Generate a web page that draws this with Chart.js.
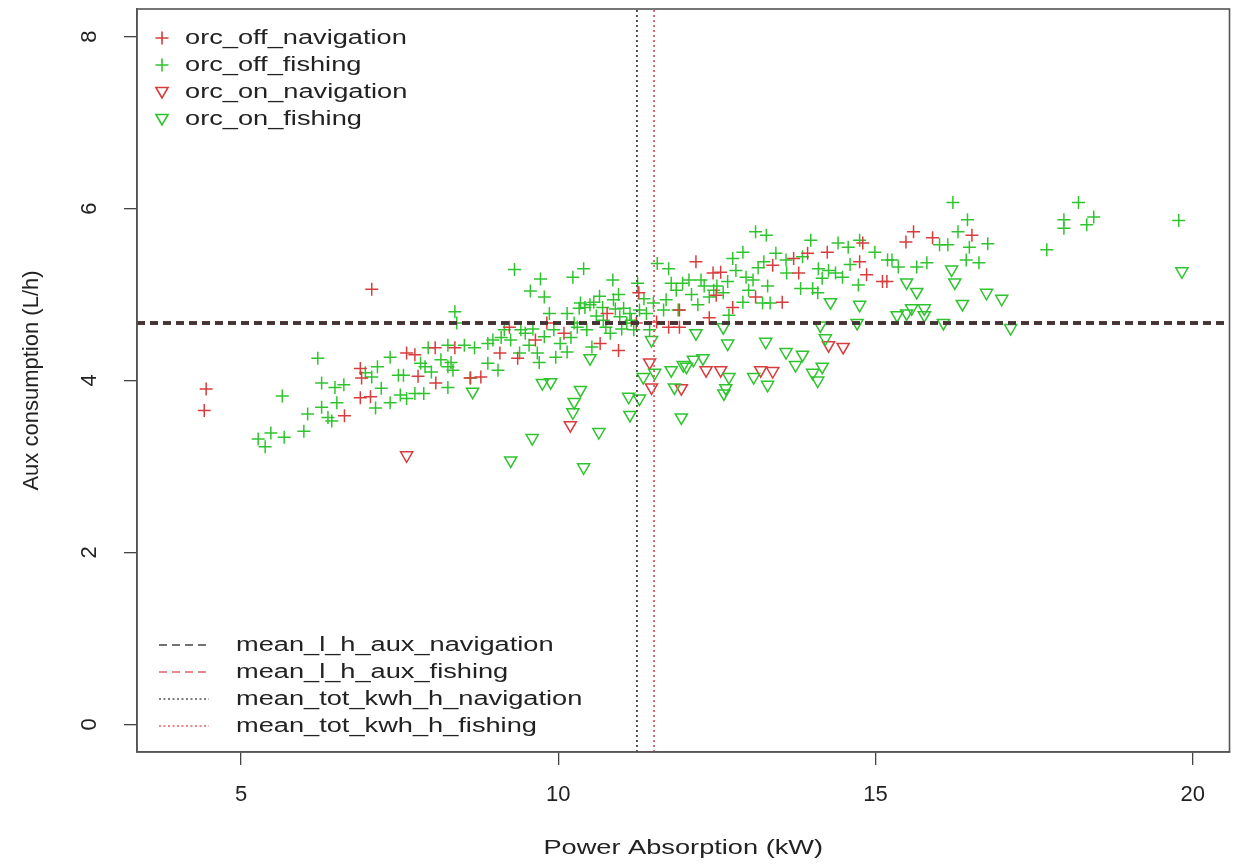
<!DOCTYPE html>
<html>
<head>
<meta charset="utf-8">
<script src="https://cdn.jsdelivr.net/npm/chart.js@4.4.1/dist/chart.umd.min.js"></script>
<style>
  html, body { margin: 0; background: #fff; }
  canvas { display: block; }
</style>
</head>
<body>
<canvas id="auxChart" width="1238" height="864"></canvas>
<script>
// axis setup
const xTicks = [5, 10, 15, 20];
const yTicks = [0, 2, 4, 6, 8];
const xRange = [3.36, 20.58];
const yRange = [-0.32, 8.32];

// [power kW, aux L/h]
const orcOffNavigation = [
  [4.42,3.65],[4.45,3.9],[7.06,5.06],[6.63,3.59],[6.88,4.14],[6.90,4.03],[6.88,3.80],[7.04,3.81],
  [7.61,4.32],[7.74,4.30],[7.79,4.05],[8.06,4.38],[8.07,3.97],[8.37,4.38],[8.61,4.03],[8.78,4.04],
  [9.08,4.32],[9.23,4.62],[9.36,4.26],[9.64,4.47],[9.82,4.67],[10.09,4.55],[10.66,4.43],[10.77,4.78],
  [10.95,4.35],[11.23,4.67],[11.27,5.02],[11.55,4.68],[11.74,4.62],[11.91,4.82],[11.91,4.62],[12.17,5.38],
  [12.44,5.25],[12.56,5.26],[13.38,5.34],[13.71,5.42],[13.93,5.48],[13.79,5.25],[14.24,5.49],[14.80,5.60],
  [14.75,5.38],[14.86,5.23],[15.11,5.15],[12.49,4.99],[12.75,4.85],[13.11,4.97],[13.53,4.91],[12.38,4.73],
  [15.60,5.73],[15.48,5.61],[15.90,5.66],[16.52,5.69],[15.18,5.15]
];
const orcOffFishing = [
  [8.37,4.80],[8.40,4.67],[6.21,4.26],[5.65,3.82],[5.27,3.32],[5.38,3.23],[5.47,3.39],[5.68,3.34],
  [5.99,3.41],[6.05,3.61],[6.27,3.69],[6.37,3.57],[6.43,3.53],[6.51,3.74],[6.27,3.97],[6.48,3.92],
  [6.62,3.95],[6.96,4.09],[7.06,4.04],[7.15,4.16],[7.12,3.68],[7.21,3.91],[7.35,3.74],[7.35,4.27],
  [7.48,4.06],[7.56,4.06],[7.51,3.83],[7.61,3.79],[7.74,3.85],[7.88,3.85],[7.83,4.20],[7.90,4.16],
  [7.95,4.38],[8.00,4.10],[8.15,4.24],[8.26,4.41],[8.26,4.16],[8.31,4.21],[8.34,4.12],[8.26,3.92],
  [8.52,4.41],[9.31,5.29],[9.72,5.18],[9.56,5.04],[9.78,4.97],[10.23,5.20],[10.40,5.30],[10.86,5.17],
  [11.25,5.13],[11.56,5.36],[11.74,5.30],[11.78,5.13],[8.68,4.38],[8.62,4.03],[8.89,4.43],[8.97,4.47],
  [8.89,4.20],[9.05,4.12],[9.15,4.59],[9.25,4.47],[9.39,4.32],[9.41,4.59],[9.48,4.55],[9.54,4.41],
  [9.67,4.32],[9.70,4.21],[9.78,4.51],[9.86,4.78],[9.93,4.59],[9.96,4.27],[10.03,4.43],[10.14,4.78],
  [10.14,4.33],[10.25,4.67],[10.33,4.84],[10.35,4.90],[10.42,4.85],[10.50,4.88],[10.56,4.91],[10.45,4.59],
  [10.53,4.39],[10.71,4.70],[10.82,4.55],[10.87,4.94],[10.97,4.74],[11.03,4.84],[11.08,4.67],[11.13,4.78],
  [11.19,4.59],[11.28,4.82],[11.39,4.78],[11.44,4.59],[11.50,4.90],[11.66,4.82],[11.70,4.94],[11.86,5.05],
  [10.60,4.75],[10.75,4.62],[10.90,4.83],[11.00,4.60],[11.15,4.70],[10.30,4.62],[10.20,4.50],[9.60,4.60],
  [9.10,4.50],[12.10,5.00],[12.30,5.10],[12.50,5.10],[13.00,5.05],[13.30,5.10],[13.60,5.25],[14.10,5.30],
  [14.60,5.35],[13.11,5.73],[13.28,5.69],[12.06,5.17],[11.96,5.13],[12.25,5.17],[12.67,5.15],[12.75,5.42],
  [12.91,5.49],[12.80,5.28],[12.96,5.20],[13.07,5.17],[13.15,5.31],[13.24,5.38],[13.43,5.48],[13.59,5.40],
  [13.85,5.44],[13.98,5.63],[13.82,5.07],[14.01,5.07],[14.09,5.02],[14.16,5.19],[14.26,5.28],[14.37,5.25],
  [14.48,5.20],[14.41,5.60],[14.57,5.55],[14.75,5.63],[14.99,5.49],[14.73,5.11],[15.19,5.40],[12.38,4.97],
  [12.60,5.02],[13.22,4.90],[13.34,4.90],[12.91,4.91],[12.69,4.76],[11.89,4.82],[16.22,6.07],[16.45,5.87],
  [16.30,5.73],[16.48,5.55],[16.77,5.59],[16.43,5.40],[16.63,5.37],[16.01,5.58],[16.14,5.58],[15.26,5.40],
  [15.36,5.32],[15.65,5.32],[15.81,5.37],[17.97,5.87],[17.97,5.77],[17.70,5.52],[18.20,6.07],[18.44,5.90],
  [18.33,5.81],[19.78,5.86],[10.65,4.98],[10.95,5.00],[11.35,4.95],[12.20,4.88],[12.45,5.05],[10.70,4.85]
];
const orcOnNavigation = [
  [7.61,3.13],[10.19,3.48],[11.44,4.21],[11.47,3.92],[11.94,3.91],[12.33,4.12],[12.56,4.12],[13.19,4.12],
  [13.38,4.11],[14.26,4.41],[14.49,4.39]
];
const orcOnFishing = [
  [8.65,3.87],[9.75,3.97],[9.88,3.98],[10.35,3.89],[10.25,3.75],[10.23,3.63],[10.64,3.40],[9.59,3.33],
  [9.25,3.07],[10.40,2.99],[10.50,4.26],[11.11,3.81],[11.28,3.79],[11.13,3.60],[11.47,4.47],[11.34,4.04],
  [11.52,4.09],[11.78,4.12],[11.83,3.92],[11.94,3.57],[11.97,4.18],[12.17,4.55],[12.60,4.62],[12.67,4.43],
  [13.27,4.45],[13.59,4.33],[13.85,4.30],[13.74,4.18],[14.13,4.64],[14.21,4.49],[14.29,4.91],[14.75,4.88],
  [14.71,4.67],[12.02,4.16],[12.13,4.24],[12.28,4.26],[12.69,4.04],[12.64,3.91],[12.61,3.85],[13.08,4.04],
  [13.30,3.95],[14.01,4.09],[14.09,4.00],[14.16,4.16],[16.20,5.29],[16.25,5.14],[15.49,5.14],[15.65,5.03],
  [16.37,4.89],[16.75,5.02],[16.99,4.95],[15.34,4.76],[15.49,4.78],[15.57,4.84],[15.77,4.84],[15.77,4.76],
  [16.07,4.67],[17.13,4.61],[19.83,5.27]
];

// reference means
const meanLhAuxNavigation = 4.67;
const meanLhAuxFishing = 4.67;
const meanTotKwhNavigation = 11.24;
const meanTotKwhFishing = 11.51;

const RED = '#d83c3c';
const GREEN = '#2fc42f';
const FONT = '"Liberation Sans", Arial, sans-serif';
const STRETCH = 1.36;

const pts = arr => arr.map(p => ({ x: p[0], y: p[1] }));

function wideText(ctx, txt, x, y, align) {
  ctx.save();
  ctx.translate(x, y);
  ctx.scale(STRETCH, 1);
  ctx.textAlign = align;
  ctx.fillText(txt, 0, 0);
  ctx.restore();
}

const frame = {
  id: 'frame',
  afterDraw(chart) {
    const { ctx, chartArea: a, scales } = chart;
    ctx.save();
    ctx.strokeStyle = '#555';
    ctx.lineWidth = 1.6;
    ctx.strokeRect(a.left, a.top, a.right - a.left, a.bottom - a.top);

    ctx.fillStyle = '#222';
    ctx.font = '22px ' + FONT;
    ctx.textBaseline = 'middle';
    // y tick labels, parallel to axis
    yTicks.forEach(v => {
      const py = scales.y.getPixelForValue(v);
      ctx.save();
      ctx.translate(90, py);
      ctx.rotate(-Math.PI / 2);
      ctx.textAlign = 'center';
      ctx.fillText(String(v), 0, 0);
      ctx.restore();
    });

    ctx.font = '20px ' + FONT;
    wideText(ctx, 'Power Absorption (kW)', (a.left + a.right) / 2, 848, 'center');

    // point legend
    const top = [
      ['orc_off_navigation', RED, 'cross'],
      ['orc_off_fishing', GREEN, 'cross'],
      ['orc_on_navigation', RED, 'triangle'],
      ['orc_on_fishing', GREEN, 'triangle']
    ];
    top.forEach((e, i) => {
      const y = 38 + i * 27;
      const tri = e[2] === 'triangle';
      ctx.strokeStyle = e[1];
      ctx.fillStyle = 'rgba(0,0,0,0)';
      Chart.helpers.drawPoint(ctx, {
        pointStyle: e[2], rotation: tri ? 180 : 0,
        radius: tri ? 7 : 6.5, borderWidth: 1.5
      }, 162, y + (tri ? -1 : 0));
      ctx.fillStyle = '#222';
      wideText(ctx, e[0], 185, y, 'left');
    });

    // line legend
    const bottom = [
      ['mean_l_h_aux_navigation', '#444', [8, 5]],
      ['mean_l_h_aux_fishing', '#e06060', [8, 5]],
      ['mean_tot_kwh_h_navigation', '#555', [2, 2.5]],
      ['mean_tot_kwh_h_fishing', '#e06060', [2, 2.5]]
    ];
    bottom.forEach((e, i) => {
      const y = 645 + i * 27;
      ctx.save();
      ctx.strokeStyle = e[1];
      ctx.lineWidth = 1.5;
      ctx.setLineDash(e[2]);
      ctx.beginPath();
      ctx.moveTo(159, y);
      ctx.lineTo(209, y);
      ctx.stroke();
      ctx.restore();
      ctx.fillStyle = '#222';
      wideText(ctx, e[0], 236, y, 'left');
    });
    ctx.restore();
  }
};

const hLine = (v, color, width) => ({
  data: [{ x: xRange[0], y: v }, { x: xRange[1], y: v }],
  showLine: true, pointRadius: 0, borderColor: color, borderWidth: width,
  borderDash: [8, 5], order: 0
});
const vLine = (v, color) => ({
  data: [{ x: v, y: yRange[0] }, { x: v, y: yRange[1] }],
  showLine: true, pointRadius: 0, borderColor: color, borderWidth: 1.8,
  borderDash: [2, 3], order: 0
});

const axisGrid = { drawOnChartArea: false, drawTicks: true, tickLength: 13, color: '#444', lineWidth: 1.3 };

new Chart(document.getElementById('auxChart'), {
  type: 'scatter',
  data: {
    datasets: [
      { data: pts(orcOffFishing), pointStyle: 'cross', pointRadius: 6.5, borderColor: GREEN, borderWidth: 1.5, order: 2 },
      { data: pts(orcOffNavigation), pointStyle: 'cross', pointRadius: 6.5, borderColor: RED, borderWidth: 1.5, order: 1 },
      { data: pts(orcOnFishing), pointStyle: 'triangle', rotation: 180, pointRadius: 7, borderColor: GREEN, backgroundColor: 'rgba(0,0,0,0)', borderWidth: 1.5, order: 1 },
      { data: pts(orcOnNavigation), pointStyle: 'triangle', rotation: 180, pointRadius: 7, borderColor: RED, backgroundColor: 'rgba(0,0,0,0)', borderWidth: 1.5, order: 1 },
      vLine(meanTotKwhNavigation, '#444'),
      vLine(meanTotKwhFishing, '#d06060'),
      hLine(meanLhAuxNavigation, '#3e3636', 3.5),
      hLine(meanLhAuxFishing, '#a04848', 4)
    ]
  },
  options: {
    responsive: false,
    animation: false,
    events: [],
    layout: { padding: { top: 9, right: 4, left: 0, bottom: 0 } },
    plugins: { legend: { display: false }, tooltip: { enabled: false } },
    scales: {
      x: {
        type: 'linear', min: xRange[0], max: xRange[1],
        afterBuildTicks: s => { s.ticks = xTicks.map(v => ({ value: v })); },
        afterFit: s => { s.height = 112; },
        ticks: { font: { size: 22, family: FONT }, color: '#222', padding: 17, maxRotation: 0, autoSkip: false },
        grid: axisGrid,
        border: { display: true, color: '#555', width: 1.6 }
      },
      y: {
        type: 'linear', min: yRange[0], max: yRange[1],
        afterBuildTicks: s => { s.ticks = yTicks.map(v => ({ value: v })); },
        afterFit: s => { s.width = 137; },
        ticks: { display: false },
        grid: axisGrid,
        border: { display: true, color: '#555', width: 1.6 },
        title: { display: true, text: 'Aux consumption (L/h)', color: '#222', font: { size: 22, family: FONT }, padding: { top: 19, bottom: 0 } }
      }
    }
  },
  plugins: [frame]
});
</script>
</body>
</html>
